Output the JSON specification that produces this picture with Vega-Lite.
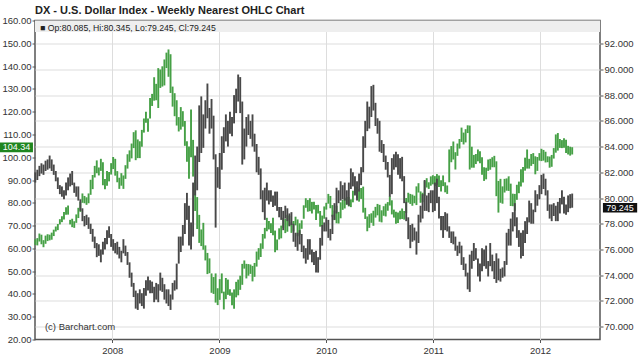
{
"$schema":"https://vega.github.io/schema/vega-lite/v6.json",
"width":565,"height":319,
"autosize":{"type":"none"},
"padding":{"left":35,"top":20.5,"right":40,"bottom":17.5},
"background":"white",
"title":{"text":"DX - U.S. Dollar Index - Weekly Nearest OHLC Chart","anchor":"start","frame":"group","font":"Liberation Sans","fontSize":11,"fontWeight":"bold","color":"#222222","offset":6,"dy":6},
"config":{
"view":{"stroke":"#555555","strokeWidth":1.5},
"axis":{"labelFont":"Liberation Sans","labelFontSize":9.5,"labelColor":"#333333","domain":false,"tickColor":"#555555","tickSize":3,"gridColor":"#dddddd","gridWidth":1,"title":null,"labelOverlap":false}
},
"datasets":{"w":[
{"d":"2007-04-13","dh":82.0,"dl":81.2,"ch":64.0,"cl":61.5},
{"d":"2007-04-20","dh":82.2,"dl":81.4,"ch":64.5,"cl":61.3},
{"d":"2007-04-27","dh":82.5,"dl":81.7,"ch":66.5,"cl":63.0},
{"d":"2007-05-04","dh":82.7,"dl":81.9,"ch":66.0,"cl":61.8},
{"d":"2007-05-11","dh":82.6,"dl":81.8,"ch":63.6,"cl":60.5},
{"d":"2007-05-18","dh":82.9,"dl":82.1,"ch":65.6,"cl":62.0},
{"d":"2007-05-25","dh":83.0,"dl":82.2,"ch":66.2,"cl":63.2},
{"d":"2007-06-01","dh":83.3,"dl":82.3,"ch":66.0,"cl":63.5},
{"d":"2007-06-08","dh":83.0,"dl":82.1,"ch":66.9,"cl":63.8},
{"d":"2007-06-15","dh":82.6,"dl":81.8,"ch":68.2,"cl":65.4},
{"d":"2007-06-22","dh":82.1,"dl":81.3,"ch":69.6,"cl":67.4},
{"d":"2007-06-29","dh":81.6,"dl":80.7,"ch":70.7,"cl":68.0},
{"d":"2007-07-06","dh":81.0,"dl":80.3,"ch":72.8,"cl":70.5},
{"d":"2007-07-13","dh":80.9,"dl":80.1,"ch":74.1,"cl":71.5},
{"d":"2007-07-20","dh":80.6,"dl":79.9,"ch":76.0,"cl":72.7},
{"d":"2007-07-27","dh":81.2,"dl":80.2,"ch":78.0,"cl":74.7},
{"d":"2007-08-03","dh":81.6,"dl":80.6,"ch":78.8,"cl":74.8},
{"d":"2007-08-10","dh":81.9,"dl":80.9,"ch":72.5,"cl":70.5},
{"d":"2007-08-17","dh":82.1,"dl":81.0,"ch":73.0,"cl":69.3},
{"d":"2007-08-24","dh":81.2,"dl":80.4,"ch":71.9,"cl":69.0},
{"d":"2007-08-31","dh":80.9,"dl":80.1,"ch":74.9,"cl":71.2},
{"d":"2007-09-07","dh":80.9,"dl":79.8,"ch":77.8,"cl":73.3},
{"d":"2007-09-14","dh":79.9,"dl":79.0,"ch":80.4,"cl":76.0},
{"d":"2007-09-21","dh":79.2,"dl":78.2,"ch":84.1,"cl":80.0},
{"d":"2007-09-28","dh":78.6,"dl":77.8,"ch":83.0,"cl":79.8},
{"d":"2007-10-05","dh":78.7,"dl":77.9,"ch":82.4,"cl":79.1},
{"d":"2007-10-12","dh":78.5,"dl":77.6,"ch":84.1,"cl":79.8},
{"d":"2007-10-19","dh":78.0,"dl":77.2,"ch":90.1,"cl":83.5},
{"d":"2007-10-26","dh":77.6,"dl":76.6,"ch":92.2,"cl":86.0},
{"d":"2007-11-02","dh":77.0,"dl":76.1,"ch":96.2,"cl":91.1},
{"d":"2007-11-09","dh":76.5,"dl":75.4,"ch":98.6,"cl":93.0},
{"d":"2007-11-16","dh":76.4,"dl":75.5,"ch":95.5,"cl":92.0},
{"d":"2007-11-23","dh":76.0,"dl":75.0,"ch":99.3,"cl":94.0},
{"d":"2007-11-30","dh":76.6,"dl":75.6,"ch":97.8,"cl":87.7},
{"d":"2007-12-07","dh":76.9,"dl":76.0,"ch":90.4,"cl":85.9},
{"d":"2007-12-14","dh":77.5,"dl":76.4,"ch":94.0,"cl":87.5},
{"d":"2007-12-21","dh":77.8,"dl":76.9,"ch":93.5,"cl":89.4},
{"d":"2007-12-28","dh":77.2,"dl":76.2,"ch":97.4,"cl":92.4},
{"d":"2008-01-04","dh":76.8,"dl":75.9,"ch":100.1,"cl":94.8},
{"d":"2008-01-11","dh":76.5,"dl":75.7,"ch":99.3,"cl":91.9},
{"d":"2008-01-18","dh":76.6,"dl":75.6,"ch":93.9,"cl":89.0},
{"d":"2008-01-25","dh":76.2,"dl":75.3,"ch":91.0,"cl":86.1},
{"d":"2008-02-01","dh":75.9,"dl":75.0,"ch":93.0,"cl":87.5},
{"d":"2008-02-08","dh":76.8,"dl":75.7,"ch":92.0,"cl":86.1},
{"d":"2008-02-15","dh":76.3,"dl":75.5,"ch":96.5,"cl":90.5},
{"d":"2008-02-22","dh":75.8,"dl":74.8,"ch":101.3,"cl":95.0},
{"d":"2008-02-29","dh":75.0,"dl":73.8,"ch":103.0,"cl":98.0},
{"d":"2008-03-07","dh":74.2,"dl":73.1,"ch":106.0,"cl":99.5},
{"d":"2008-03-14","dh":73.4,"dl":72.3,"ch":111.0,"cl":104.0},
{"d":"2008-03-21","dh":72.8,"dl":71.4,"ch":111.8,"cl":98.7},
{"d":"2008-03-28","dh":72.6,"dl":71.3,"ch":107.8,"cl":99.6},
{"d":"2008-04-04","dh":72.9,"dl":71.8,"ch":107.0,"cl":99.6},
{"d":"2008-04-11","dh":72.6,"dl":71.6,"ch":112.0,"cl":104.6},
{"d":"2008-04-18","dh":73.0,"dl":71.4,"ch":117.0,"cl":110.8},
{"d":"2008-04-25","dh":73.6,"dl":72.4,"ch":119.9,"cl":115.1},
{"d":"2008-05-02","dh":73.9,"dl":72.8,"ch":117.0,"cl":111.2},
{"d":"2008-05-09","dh":73.6,"dl":72.6,"ch":126.0,"cl":117.0},
{"d":"2008-05-16","dh":73.5,"dl":72.6,"ch":127.8,"cl":122.5},
{"d":"2008-05-23","dh":73.1,"dl":71.9,"ch":135.1,"cl":124.8},
{"d":"2008-05-30","dh":73.4,"dl":72.1,"ch":132.2,"cl":125.0},
{"d":"2008-06-06","dh":73.3,"dl":71.9,"ch":139.1,"cl":121.6},
{"d":"2008-06-13","dh":74.2,"dl":72.8,"ch":138.5,"cl":130.4},
{"d":"2008-06-20","dh":73.8,"dl":72.7,"ch":139.9,"cl":131.0},
{"d":"2008-06-27","dh":73.3,"dl":72.1,"ch":142.9,"cl":131.5},
{"d":"2008-07-04","dh":72.9,"dl":71.8,"ch":145.9,"cl":139.1},
{"d":"2008-07-11","dh":72.9,"dl":71.6,"ch":147.3,"cl":135.3},
{"d":"2008-07-18","dh":72.5,"dl":71.3,"ch":145.2,"cl":128.2},
{"d":"2008-07-25","dh":73.4,"dl":72.1,"ch":131.0,"cl":122.2},
{"d":"2008-08-01","dh":73.6,"dl":72.8,"ch":128.1,"cl":118.0},
{"d":"2008-08-08","dh":74.9,"dl":72.9,"ch":125.0,"cl":113.9},
{"d":"2008-08-15","dh":77.0,"dl":74.9,"ch":117.6,"cl":111.3},
{"d":"2008-08-22","dh":77.0,"dl":75.8,"ch":122.0,"cl":112.1},
{"d":"2008-08-29","dh":77.9,"dl":76.3,"ch":120.2,"cl":113.4},
{"d":"2008-09-05","dh":79.6,"dl":77.2,"ch":115.9,"cl":105.0},
{"d":"2008-09-12","dh":80.4,"dl":78.3,"ch":107.0,"cl":98.0},
{"d":"2008-09-19","dh":79.4,"dl":76.3,"ch":104.7,"cl":90.5},
{"d":"2008-09-26","dh":78.1,"dl":76.0,"ch":120.9,"cl":100.0},
{"d":"2008-10-03","dh":81.2,"dl":77.0,"ch":107.6,"cl":91.5},
{"d":"2008-10-10","dh":83.3,"dl":80.2,"ch":90.0,"cl":76.4},
{"d":"2008-10-17","dh":84.0,"dl":80.6,"ch":82.5,"cl":68.5},
{"d":"2008-10-24","dh":87.2,"dl":82.8,"ch":74.7,"cl":62.4},
{"d":"2008-10-31","dh":87.9,"dl":83.5,"ch":68.3,"cl":61.0},
{"d":"2008-11-07","dh":86.5,"dl":83.9,"ch":71.2,"cl":59.4},
{"d":"2008-11-14","dh":87.6,"dl":85.4,"ch":61.3,"cl":54.7},
{"d":"2008-11-21","dh":88.9,"dl":86.2,"ch":58.0,"cl":48.7},
{"d":"2008-11-28","dh":87.0,"dl":85.0,"ch":55.6,"cl":49.1},
{"d":"2008-12-05","dh":87.7,"dl":85.4,"ch":49.0,"cl":40.5},
{"d":"2008-12-12","dh":86.4,"dl":83.0,"ch":47.4,"cl":40.0},
{"d":"2008-12-19","dh":83.4,"dl":77.7,"ch":49.0,"cl":36.2},
{"d":"2008-12-26","dh":82.4,"dl":80.8,"ch":42.5,"cl":35.1},
{"d":"2009-01-02","dh":83.5,"dl":80.7,"ch":46.5,"cl":37.4},
{"d":"2009-01-09","dh":84.8,"dl":82.2,"ch":49.0,"cl":40.3},
{"d":"2009-01-16","dh":85.5,"dl":83.5,"ch":41.0,"cl":33.2},
{"d":"2009-01-23","dh":86.5,"dl":84.4,"ch":47.0,"cl":37.7},
{"d":"2009-01-30","dh":86.0,"dl":84.0,"ch":46.3,"cl":39.6},
{"d":"2009-02-06","dh":86.7,"dl":85.0,"ch":42.0,"cl":39.2},
{"d":"2009-02-13","dh":86.3,"dl":84.8,"ch":40.6,"cl":35.0},
{"d":"2009-02-20","dh":88.0,"dl":85.8,"ch":42.0,"cl":33.5},
{"d":"2009-02-27","dh":88.5,"dl":86.6,"ch":45.3,"cl":38.5},
{"d":"2009-03-06","dh":89.6,"dl":87.5,"ch":46.3,"cl":39.4},
{"d":"2009-03-13","dh":89.4,"dl":86.6,"ch":48.0,"cl":41.8},
{"d":"2009-03-20","dh":87.5,"dl":82.6,"ch":53.2,"cl":44.0},
{"d":"2009-03-27","dh":85.4,"dl":83.0,"ch":54.7,"cl":51.1},
{"d":"2009-04-03","dh":86.3,"dl":84.0,"ch":53.2,"cl":46.8},
{"d":"2009-04-10","dh":86.5,"dl":84.9,"ch":53.1,"cl":48.0},
{"d":"2009-04-17","dh":86.0,"dl":84.6,"ch":52.9,"cl":48.8},
{"d":"2009-04-24","dh":86.5,"dl":84.0,"ch":52.3,"cl":45.5},
{"d":"2009-05-01","dh":85.0,"dl":83.6,"ch":53.6,"cl":47.5},
{"d":"2009-05-08","dh":84.2,"dl":82.0,"ch":58.6,"cl":52.0},
{"d":"2009-05-15","dh":83.2,"dl":81.8,"ch":60.1,"cl":55.0},
{"d":"2009-05-22","dh":82.3,"dl":79.9,"ch":62.2,"cl":56.2},
{"d":"2009-05-29","dh":80.6,"dl":78.9,"ch":66.3,"cl":59.8},
{"d":"2009-06-05","dh":80.8,"dl":78.3,"ch":69.0,"cl":64.3},
{"d":"2009-06-12","dh":81.2,"dl":79.8,"ch":73.4,"cl":67.5},
{"d":"2009-06-19","dh":80.6,"dl":79.5,"ch":72.0,"cl":68.3},
{"d":"2009-06-26","dh":80.6,"dl":79.7,"ch":71.0,"cl":66.7},
{"d":"2009-07-03","dh":80.2,"dl":79.3,"ch":73.4,"cl":65.8},
{"d":"2009-07-10","dh":80.5,"dl":79.4,"ch":67.8,"cl":58.3},
{"d":"2009-07-17","dh":80.5,"dl":79.0,"ch":63.9,"cl":59.2},
{"d":"2009-07-24","dh":79.3,"dl":78.5,"ch":68.8,"cl":63.9},
{"d":"2009-07-31","dh":79.3,"dl":78.3,"ch":70.0,"cl":64.4},
{"d":"2009-08-07","dh":79.0,"dl":77.5,"ch":73.4,"cl":69.0},
{"d":"2009-08-14","dh":79.4,"dl":78.4,"ch":72.9,"cl":66.7},
{"d":"2009-08-21","dh":79.2,"dl":78.2,"ch":74.7,"cl":67.3},
{"d":"2009-08-28","dh":78.8,"dl":77.8,"ch":74.3,"cl":70.0},
{"d":"2009-09-04","dh":78.9,"dl":77.9,"ch":71.4,"cl":66.8},
{"d":"2009-09-11","dh":78.0,"dl":76.6,"ch":72.0,"cl":67.4},
{"d":"2009-09-18","dh":77.3,"dl":76.2,"ch":73.9,"cl":70.1},
{"d":"2009-09-25","dh":77.3,"dl":75.9,"ch":72.7,"cl":65.3},
{"d":"2009-10-02","dh":77.5,"dl":76.4,"ch":71.0,"cl":65.9},
{"d":"2009-10-09","dh":77.2,"dl":75.8,"ch":72.3,"cl":68.6},
{"d":"2009-10-16","dh":76.3,"dl":75.3,"ch":78.9,"cl":73.0},
{"d":"2009-10-23","dh":76.1,"dl":74.9,"ch":82.0,"cl":77.8},
{"d":"2009-10-30","dh":76.8,"dl":75.2,"ch":81.2,"cl":76.1},
{"d":"2009-11-06","dh":76.8,"dl":75.6,"ch":82.0,"cl":76.3},
{"d":"2009-11-13","dh":76.0,"dl":75.0,"ch":80.4,"cl":75.3},
{"d":"2009-11-20","dh":75.8,"dl":74.8,"ch":80.5,"cl":77.0},
{"d":"2009-11-27","dh":75.9,"dl":74.2,"ch":79.0,"cl":72.4},
{"d":"2009-12-04","dh":75.4,"dl":74.2,"ch":79.1,"cl":75.3},
{"d":"2009-12-11","dh":76.9,"dl":75.2,"ch":76.4,"cl":69.5},
{"d":"2009-12-18","dh":77.9,"dl":76.3,"ch":74.4,"cl":69.6},
{"d":"2009-12-25","dh":78.1,"dl":77.4,"ch":78.4,"cl":73.0},
{"d":"2010-01-01","dh":78.5,"dl":77.4,"ch":80.0,"cl":77.0},
{"d":"2010-01-08","dh":78.3,"dl":76.9,"ch":83.9,"cl":79.6},
{"d":"2010-01-15","dh":77.6,"dl":76.7,"ch":83.0,"cl":77.6},
{"d":"2010-01-22","dh":78.7,"dl":77.2,"ch":79.0,"cl":73.9},
{"d":"2010-01-29","dh":79.6,"dl":78.3,"ch":76.6,"cl":72.4},
{"d":"2010-02-05","dh":80.8,"dl":78.8,"ch":78.7,"cl":71.0},
{"d":"2010-02-12","dh":80.6,"dl":79.6,"ch":76.0,"cl":70.9},
{"d":"2010-02-19","dh":81.3,"dl":79.8,"ch":80.2,"cl":73.2},
{"d":"2010-02-26","dh":81.0,"dl":79.9,"ch":81.3,"cl":76.9},
{"d":"2010-03-05","dh":81.2,"dl":79.8,"ch":82.0,"cl":77.5},
{"d":"2010-03-12","dh":80.6,"dl":79.5,"ch":82.6,"cl":79.1},
{"d":"2010-03-19","dh":81.2,"dl":79.4,"ch":82.5,"cl":78.4},
{"d":"2010-03-26","dh":82.3,"dl":80.7,"ch":81.5,"cl":78.1},
{"d":"2010-04-02","dh":82.0,"dl":80.9,"ch":85.3,"cl":80.2},
{"d":"2010-04-09","dh":81.7,"dl":80.2,"ch":87.1,"cl":84.0},
{"d":"2010-04-16","dh":81.3,"dl":79.8,"ch":86.9,"cl":82.1},
{"d":"2010-04-23","dh":81.9,"dl":80.5,"ch":86.0,"cl":80.5},
{"d":"2010-04-30","dh":82.4,"dl":81.0,"ch":86.5,"cl":81.7},
{"d":"2010-05-07","dh":84.8,"dl":82.0,"ch":87.1,"cl":75.7},
{"d":"2010-05-14","dh":86.0,"dl":83.9,"ch":77.8,"cl":72.9},
{"d":"2010-05-21","dh":87.5,"dl":85.2,"ch":74.0,"cl":67.5},
{"d":"2010-05-28","dh":87.1,"dl":85.4,"ch":75.0,"cl":69.0},
{"d":"2010-06-04","dh":88.7,"dl":86.3,"ch":75.4,"cl":71.2},
{"d":"2010-06-11","dh":88.8,"dl":86.8,"ch":76.5,"cl":69.9},
{"d":"2010-06-18","dh":87.4,"dl":85.6,"ch":78.2,"cl":73.5},
{"d":"2010-06-25","dh":86.2,"dl":85.0,"ch":79.5,"cl":74.5},
{"d":"2010-07-02","dh":86.0,"dl":83.6,"ch":79.1,"cl":71.7},
{"d":"2010-07-09","dh":84.5,"dl":83.5,"ch":76.7,"cl":71.4},
{"d":"2010-07-16","dh":84.2,"dl":82.8,"ch":78.5,"cl":74.3},
{"d":"2010-07-23","dh":83.3,"dl":82.2,"ch":79.6,"cl":74.0},
{"d":"2010-07-30","dh":82.8,"dl":81.6,"ch":80.3,"cl":76.5},
{"d":"2010-08-06","dh":81.8,"dl":80.1,"ch":82.9,"cl":78.8},
{"d":"2010-08-13","dh":83.1,"dl":80.3,"ch":81.1,"cl":74.9},
{"d":"2010-08-20","dh":83.4,"dl":82.2,"ch":77.0,"cl":73.5},
{"d":"2010-08-27","dh":83.6,"dl":82.4,"ch":76.1,"cl":70.8},
{"d":"2010-09-03","dh":83.4,"dl":81.8,"ch":75.7,"cl":71.1},
{"d":"2010-09-10","dh":83.1,"dl":81.5,"ch":76.5,"cl":72.7},
{"d":"2010-09-17","dh":83.2,"dl":81.3,"ch":77.5,"cl":72.9},
{"d":"2010-09-24","dh":81.7,"dl":79.6,"ch":76.4,"cl":72.6},
{"d":"2010-10-01","dh":79.7,"dl":78.2,"ch":82.1,"cl":75.5},
{"d":"2010-10-08","dh":78.5,"dl":76.8,"ch":84.4,"cl":80.1},
{"d":"2010-10-15","dh":77.9,"dl":76.1,"ch":83.9,"cl":79.5},
{"d":"2010-10-22","dh":78.0,"dl":76.6,"ch":83.6,"cl":78.7},
{"d":"2010-10-29","dh":77.7,"dl":76.7,"ch":83.1,"cl":79.8},
{"d":"2010-11-05","dh":77.4,"dl":75.6,"ch":87.2,"cl":79.0},
{"d":"2010-11-12","dh":78.7,"dl":76.5,"ch":88.6,"cl":84.5},
{"d":"2010-11-19","dh":79.4,"dl":78.1,"ch":85.0,"cl":80.0},
{"d":"2010-11-26","dh":80.3,"dl":78.4,"ch":84.4,"cl":80.3},
{"d":"2010-12-03","dh":81.4,"dl":79.0,"ch":89.5,"cl":83.0},
{"d":"2010-12-10","dh":80.2,"dl":79.0,"ch":90.8,"cl":86.7},
{"d":"2010-12-17","dh":80.4,"dl":78.9,"ch":89.0,"cl":86.1},
{"d":"2010-12-24","dh":80.6,"dl":79.6,"ch":91.6,"cl":87.5},
{"d":"2010-12-31","dh":80.6,"dl":78.9,"ch":92.1,"cl":88.1},
{"d":"2011-01-07","dh":81.2,"dl":79.0,"ch":91.7,"cl":87.3},
{"d":"2011-01-14","dh":81.5,"dl":79.6,"ch":92.6,"cl":87.9},
{"d":"2011-01-21","dh":80.1,"dl":78.4,"ch":92.0,"cl":86.9},
{"d":"2011-01-28","dh":78.6,"dl":77.5,"ch":89.9,"cl":84.9},
{"d":"2011-02-04","dh":78.6,"dl":76.9,"ch":92.0,"cl":87.3},
{"d":"2011-02-11","dh":78.9,"dl":77.5,"ch":89.0,"cl":84.6},
{"d":"2011-02-18","dh":78.8,"dl":77.4,"ch":87.6,"cl":83.9},
{"d":"2011-02-25","dh":77.8,"dl":76.9,"ch":103.4,"cl":89.0},
{"d":"2011-03-04","dh":77.4,"dl":76.5,"ch":104.9,"cl":97.8},
{"d":"2011-03-11","dh":77.4,"dl":76.4,"ch":106.9,"cl":99.0},
{"d":"2011-03-18","dh":77.0,"dl":75.9,"ch":102.2,"cl":94.6},
{"d":"2011-03-25","dh":76.3,"dl":75.5,"ch":106.0,"cl":100.6},
{"d":"2011-04-01","dh":76.6,"dl":75.7,"ch":108.0,"cl":103.8},
{"d":"2011-04-08","dh":76.3,"dl":74.8,"ch":113.0,"cl":106.7},
{"d":"2011-04-15","dh":75.4,"dl":74.4,"ch":110.8,"cl":105.6},
{"d":"2011-04-22","dh":74.9,"dl":73.9,"ch":112.3,"cl":106.5},
{"d":"2011-04-29","dh":74.2,"dl":72.9,"ch":114.0,"cl":110.6},
{"d":"2011-05-06","dh":75.6,"dl":72.7,"ch":113.9,"cl":94.6},
{"d":"2011-05-13","dh":75.9,"dl":74.5,"ch":104.6,"cl":95.4},
{"d":"2011-05-20","dh":76.5,"dl":75.1,"ch":101.0,"cl":95.4},
{"d":"2011-05-27","dh":76.1,"dl":75.2,"ch":101.4,"cl":97.0},
{"d":"2011-06-03","dh":75.3,"dl":73.9,"ch":103.4,"cl":98.2},
{"d":"2011-06-10","dh":74.9,"dl":73.5,"ch":102.6,"cl":97.3},
{"d":"2011-06-17","dh":76.1,"dl":74.3,"ch":100.0,"cl":92.3},
{"d":"2011-06-24","dh":76.0,"dl":74.7,"ch":95.6,"cl":89.6},
{"d":"2011-07-01","dh":76.3,"dl":74.5,"ch":95.4,"cl":90.3},
{"d":"2011-07-08","dh":75.1,"dl":73.9,"ch":99.0,"cl":94.0},
{"d":"2011-07-15","dh":76.5,"dl":74.7,"ch":99.3,"cl":94.5},
{"d":"2011-07-22","dh":75.6,"dl":74.3,"ch":100.0,"cl":95.6},
{"d":"2011-07-29","dh":75.1,"dl":73.7,"ch":100.6,"cl":95.6},
{"d":"2011-08-05","dh":75.7,"dl":73.4,"ch":98.2,"cl":82.9},
{"d":"2011-08-12","dh":75.3,"dl":73.6,"ch":89.6,"cl":75.7},
{"d":"2011-08-19","dh":74.5,"dl":73.5,"ch":90.5,"cl":80.0},
{"d":"2011-08-26","dh":74.6,"dl":73.8,"ch":87.2,"cl":79.6},
{"d":"2011-09-02","dh":75.1,"dl":73.9,"ch":90.5,"cl":84.5},
{"d":"2011-09-09","dh":77.3,"dl":74.8,"ch":90.7,"cl":85.3},
{"d":"2011-09-16","dh":77.6,"dl":76.3,"ch":91.6,"cl":85.2},
{"d":"2011-09-23","dh":78.4,"dl":76.3,"ch":88.4,"cl":78.6},
{"d":"2011-09-30","dh":78.9,"dl":77.4,"ch":84.0,"cl":78.5},
{"d":"2011-10-07","dh":79.6,"dl":77.8,"ch":83.9,"cl":76.5},
{"d":"2011-10-14","dh":78.5,"dl":76.9,"ch":87.9,"cl":81.3},
{"d":"2011-10-21","dh":77.5,"dl":76.2,"ch":89.3,"cl":84.2},
{"d":"2011-10-28","dh":77.3,"dl":75.3,"ch":94.7,"cl":87.2},
{"d":"2011-11-04","dh":77.5,"dl":75.5,"ch":95.7,"cl":88.9},
{"d":"2011-11-11","dh":78.2,"dl":76.5,"ch":99.8,"cl":94.1},
{"d":"2011-11-18","dh":78.5,"dl":77.2,"ch":103.4,"cl":95.0},
{"d":"2011-11-25","dh":79.8,"dl":78.1,"ch":99.3,"cl":95.0},
{"d":"2011-12-02","dh":79.6,"dl":78.0,"ch":101.4,"cl":96.2},
{"d":"2011-12-09","dh":79.1,"dl":78.0,"ch":101.8,"cl":97.0},
{"d":"2011-12-16","dh":80.6,"dl":78.9,"ch":100.4,"cl":92.5},
{"d":"2011-12-23","dh":80.3,"dl":79.4,"ch":100.1,"cl":94.0},
{"d":"2011-12-30","dh":81.0,"dl":79.9,"ch":101.8,"cl":98.5},
{"d":"2012-01-06","dh":81.8,"dl":80.3,"ch":103.7,"cl":98.3},
{"d":"2012-01-13","dh":81.9,"dl":80.7,"ch":103.2,"cl":98.5},
{"d":"2012-01-20","dh":81.5,"dl":80.2,"ch":102.4,"cl":97.7},
{"d":"2012-01-27","dh":80.6,"dl":79.0,"ch":100.4,"cl":97.8},
{"d":"2012-02-03","dh":79.5,"dl":78.4,"ch":100.3,"cl":95.4},
{"d":"2012-02-10","dh":79.5,"dl":78.2,"ch":101.0,"cl":95.8},
{"d":"2012-02-17","dh":79.6,"dl":78.6,"ch":104.0,"cl":99.4},
{"d":"2012-02-24","dh":79.4,"dl":78.2,"ch":110.0,"cl":102.0},
{"d":"2012-03-02","dh":79.7,"dl":78.2,"ch":110.6,"cl":102.9},
{"d":"2012-03-09","dh":80.0,"dl":78.8,"ch":108.0,"cl":104.1},
{"d":"2012-03-16","dh":80.6,"dl":79.5,"ch":107.5,"cl":104.0},
{"d":"2012-03-23","dh":80.1,"dl":78.8,"ch":108.3,"cl":104.2},
{"d":"2012-03-30","dh":79.5,"dl":78.7,"ch":107.7,"cl":101.8},
{"d":"2012-04-06","dh":80.2,"dl":78.9,"ch":105.0,"cl":101.2},
{"d":"2012-04-13","dh":80.3,"dl":79.2,"ch":104.6,"cl":100.7},
{"d":"2012-04-20","dh":80.345,"dl":79.245,"ch":104.4,"cl":101.2}
]},
"encoding":{
"x":{"field":"d","type":"temporal",
"scale":{"domain":[{"year":2007,"month":4,"date":12},{"year":2012,"month":7,"date":24}]},
"axis":{"orient":"bottom","format":"%Y","tickCount":{"interval":"year","step":1},"grid":true,"labelPadding":3,"labelFlush":false}}
},
"layer":[
{"layer":[
{"data":{"values":[{"a":"2007-04-12","b":"2012-07-24","lo":155,"hi":160}]},
"mark":{"type":"rect","fill":"#eeeeee"},
"encoding":{"x":{"field":"a","type":"temporal"},"x2":{"field":"b"},
"y":{"field":"lo","type":"quantitative","scale":{"domain":[20,160],"nice":false,"zero":false},
"axis":{"orient":"left","values":[20,30,40,50,60,70,80,90,100,110,120,130,140,150,160],"tickCount":15,"labelOverlap":false,"labelSeparation":0,"format":".2f","grid":false,"labelPadding":1}},
"y2":{"field":"hi"}}},
{"data":{"name":"w"},
"mark":{"type":"rule","color":"#46a046","strokeWidth":1.9},
"encoding":{"y":{"field":"cl","type":"quantitative"},"y2":{"field":"ch"}}},
{"data":{"values":[{"a":"2006-12-13","b":"2007-04-05","lo":102.2,"hi":106.5}]},
"mark":{"type":"rect","fill":"#1f861f"},
"encoding":{"x":{"field":"a","type":"temporal"},"x2":{"field":"b"},"y":{"field":"lo","type":"quantitative"},"y2":{"field":"hi"}}},
{"data":{"values":[{"m":"2007-02-08","v":104.34,"t":"104.34"}]},
"mark":{"type":"text","color":"white","font":"Liberation Sans","fontSize":9,"align":"center","baseline":"middle"},
"encoding":{"x":{"field":"m","type":"temporal"},"y":{"field":"v","type":"quantitative"},"text":{"field":"t"}}},
{"data":{"values":[{"m":"2007-04-29","v":156.8,"t":"■ Op:80.085, Hi:80.345, Lo:79.245, Cl:79.245"}]},
"mark":{"type":"text","color":"#222222","font":"Liberation Sans","fontSize":8.7,"align":"left","baseline":"middle"},
"encoding":{"x":{"field":"m","type":"temporal"},"y":{"field":"v","type":"quantitative"},"text":{"field":"t"}}},
{"data":{"values":[{"m":"2007-05-16","v":25.5,"t":"(c) Barchart.com"}]},
"mark":{"type":"text","color":"#333333","font":"Liberation Sans","fontSize":9.5,"align":"left","baseline":"middle"},
"encoding":{"x":{"field":"m","type":"temporal"},"y":{"field":"v","type":"quantitative"},"text":{"field":"t"}}}
]},
{"layer":[
{"data":{"name":"w"},
"mark":{"type":"rule","color":"#484848","strokeWidth":1.9},
"encoding":{"y":{"field":"dl","type":"quantitative","scale":{"domain":[69,93.8],"nice":false,"zero":false},
"axis":{"orient":"right","values":[70,72,74,76,78,80,82,84,86,88,90,92],"tickCount":12,"labelOverlap":false,"labelSeparation":0,"format":".3f","grid":true,"labelPadding":1}},
"y2":{"field":"dh"}}},
{"data":{"values":[{"a":"2012-08-03","b":"2012-11-28","lo":78.87,"hi":79.62}]},
"mark":{"type":"rect","fill":"#111111"},
"encoding":{"x":{"field":"a","type":"temporal"},"x2":{"field":"b"},"y":{"field":"lo","type":"quantitative"},"y2":{"field":"hi"}}},
{"data":{"values":[{"m":"2012-09-30","v":79.245,"t":"79.245"}]},
"mark":{"type":"text","color":"white","font":"Liberation Sans","fontSize":9,"align":"center","baseline":"middle"},
"encoding":{"x":{"field":"m","type":"temporal"},"y":{"field":"v","type":"quantitative"},"text":{"field":"t"}}}
]}
],
"resolve":{"scale":{"y":"independent"}}
}
